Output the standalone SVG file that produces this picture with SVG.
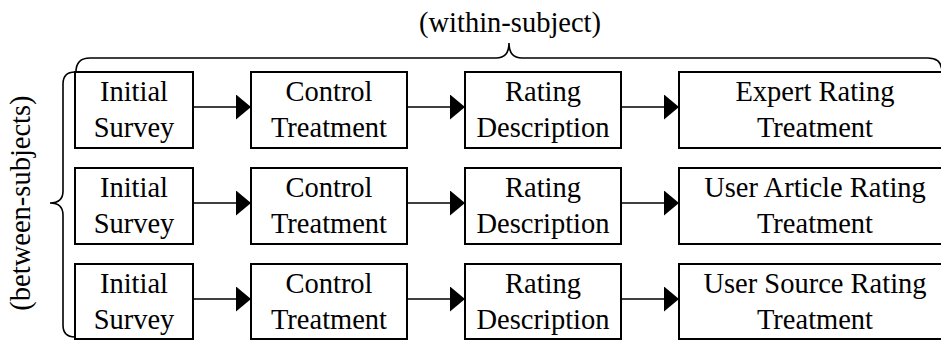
<svg xmlns="http://www.w3.org/2000/svg" width="941" height="340" viewBox="0 0 941 340">
<style>
.box{fill:#fff;stroke:#000;stroke-width:2}
.t{font-family:"Liberation Serif","Times New Roman",serif;font-size:28.5px;fill:#000;text-anchor:middle}
.ln{fill:none;stroke:#000;stroke-width:1.6}
.br{fill:none;stroke:#000;stroke-width:1.6}
</style>
<defs>
<marker id="ah" viewBox="0 0 15 25" refX="15" refY="12.5" markerWidth="15" markerHeight="25" markerUnits="userSpaceOnUse" orient="auto">
<path d="M0,0 L15,12.5 L0,25 Z" fill="#000"/>
</marker>
</defs>
<rect width="941" height="340" fill="#fff"/>
<text class="t" x="510" y="32">(within-subject)</text>
<text class="t" transform="translate(30,203) rotate(-90)">(between-subjects)</text>
<g id="braces">
<path class="br" d="M76,72 Q76,58 90,58 L496,58 Q509,58 509,43 Q509,58 522,58 L928,58 Q942,58 942,72"/>
<path class="br" d="M75,72 Q63,72 63,84 L63,191 Q63,203 50,203 Q63,203 63,215 L63,325 Q63,337 75,337"/>
</g>
<g id="connectors">
<path class="ln" d="M193,107 L251,107" marker-end="url(#ah)"/>
<path class="ln" d="M407,107 L465,107" marker-end="url(#ah)"/>
<path class="ln" d="M621,107 L679,107" marker-end="url(#ah)"/>
<path class="ln" d="M193,203 L251,203" marker-end="url(#ah)"/>
<path class="ln" d="M407,203 L465,203" marker-end="url(#ah)"/>
<path class="ln" d="M621,203 L679,203" marker-end="url(#ah)"/>
<path class="ln" d="M193,299 L251,299" marker-end="url(#ah)"/>
<path class="ln" d="M407,299 L465,299" marker-end="url(#ah)"/>
<path class="ln" d="M621,299 L679,299" marker-end="url(#ah)"/>
</g>
<g id="r1-initial"><rect class="box" x="75" y="72" width="118" height="76"/><text class="t" x="134" y="101">Initial</text><text class="t" x="134" y="137">Survey</text></g>
<g id="r1-control"><rect class="box" x="251" y="72" width="156" height="76"/><text class="t" x="329" y="101">Control</text><text class="t" x="329" y="137">Treatment</text></g>
<g id="r1-rating"><rect class="box" x="465" y="72" width="156" height="76"/><text class="t" x="543" y="101">Rating</text><text class="t" x="543" y="137">Description</text></g>
<g id="r1-expert"><rect class="box" x="679" y="72" width="272" height="76"/><text class="t" x="815" y="101">Expert Rating</text><text class="t" x="815" y="137">Treatment</text></g>
<g id="r2-initial"><rect class="box" x="75" y="168" width="118" height="76"/><text class="t" x="134" y="197">Initial</text><text class="t" x="134" y="233">Survey</text></g>
<g id="r2-control"><rect class="box" x="251" y="168" width="156" height="76"/><text class="t" x="329" y="197">Control</text><text class="t" x="329" y="233">Treatment</text></g>
<g id="r2-rating"><rect class="box" x="465" y="168" width="156" height="76"/><text class="t" x="543" y="197">Rating</text><text class="t" x="543" y="233">Description</text></g>
<g id="r2-article"><rect class="box" x="679" y="168" width="272" height="76"/><text class="t" x="815" y="197">User Article Rating</text><text class="t" x="815" y="233">Treatment</text></g>
<g id="r3-initial"><rect class="box" x="75" y="264" width="118" height="75"/><text class="t" x="134" y="293">Initial</text><text class="t" x="134" y="329">Survey</text></g>
<g id="r3-control"><rect class="box" x="251" y="264" width="156" height="75"/><text class="t" x="329" y="293">Control</text><text class="t" x="329" y="329">Treatment</text></g>
<g id="r3-rating"><rect class="box" x="465" y="264" width="156" height="75"/><text class="t" x="543" y="293">Rating</text><text class="t" x="543" y="329">Description</text></g>
<g id="r3-source"><rect class="box" x="679" y="264" width="272" height="75"/><text class="t" x="815" y="293">User Source Rating</text><text class="t" x="815" y="329">Treatment</text></g>
</svg>
